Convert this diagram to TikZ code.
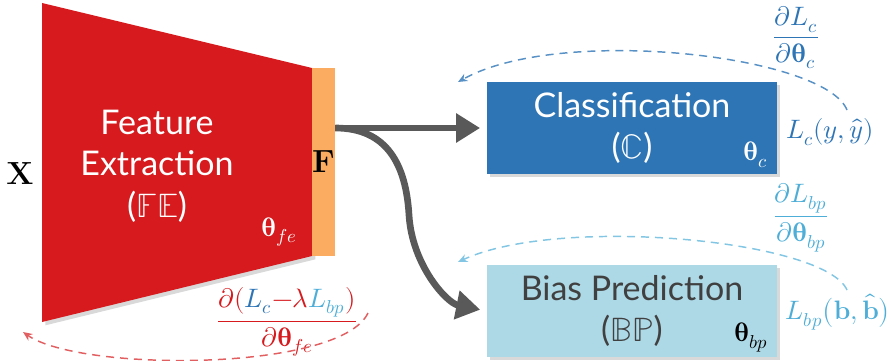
\documentclass[tikz,border=0pt]{standalone}
\usepackage{amsmath}
\usepackage{fontspec}
\usepackage{unicode-math}
\setmathfont{Latin Modern Math}
\newfontfamily\boxfont{Lato}
\usetikzlibrary{arrows.meta,shadows}
\definecolor{RedFE}{RGB}{214,26,30}
\definecolor{OrangeF}{RGB}{251,172,96}
\definecolor{BlueC}{RGB}{46,117,182}
\definecolor{BlueBP}{RGB}{173,216,230}
\definecolor{TextBP}{RGB}{78,174,216}
\definecolor{GrayArrow}{RGB}{89,89,89}
\definecolor{DarkText}{RGB}{64,64,64}
\tikzset{
  flow/.style={draw=GrayArrow, line width=5pt, -{Triangle[length=18pt,width=21pt]}, shorten >=5pt},
  backprop/.style={dash pattern=on 6pt off 4.5pt, line width=1.1pt, -{Stealth[length=7pt,width=6pt]}},
  softshadow/.style={drop shadow={shadow xshift=2.5pt, shadow yshift=-2.5pt, opacity=0.3}},
  blockbox/.style={minimum width=217.5pt, minimum height=69pt, inner sep=0pt, align=center, softshadow},
  boxtext/.style={font=\boxfont\fontsize{25.5}{31}\selectfont},
  mathlbl/.style={font=\fontsize{20}{24}\selectfont, inner sep=0.75pt},
  inlbl/.style={font=\bfseries\fontsize{24}{28}\selectfont, inner sep=0.75pt},
}

\begin{document}
\begin{tikzpicture}[x=0.75pt,y=0.75pt,yscale=-1,xscale=1]
\useasboundingbox (0,0) rectangle (891,360);

%Shape: Trapezoid [feature extraction]
\path [fill=RedFE, softshadow] (42,3) -- (312,68) -- (312,256) -- (42,322) -- cycle;
%Shape: Rectangle [feature bar]
\draw (323.5,162) node (feat) [fill=OrangeF, minimum width=17.25pt, minimum height=141pt, inner sep=0pt] {};
%Shape: Rectangle [classification]
\draw (632,128) node (cls) [blockbox, fill=BlueC, boxtext, text=white] {Classification\\($\mathbb{C}$)};
%Shape: Rectangle [bias prediction]
\draw (632,311) node (bp) [blockbox, fill=BlueBP, boxtext, text=DarkText] {Bias Prediction\\($\mathbb{B}\mathbb{P}$)};

%Straight Lines [F to C]
\draw [flow] (feat.east |- cls.west) -- (cls.west);
%Curve Lines [F to BP]
\coordinate (bend) at (409,215);
\draw [flow] (feat.east |- cls.west) .. controls +(52,0) and +(-3,-50) .. (bend) .. controls +(3,50) and +(-40,-8) .. (bp.west);

% Text Node
\draw (20,174) node (inX) [inlbl] {X};
% Text Node
\draw (feat.center) node (fLbl) [inlbl] {F};
% Text Node
\draw (157,166) node (feTxt) [boxtext, text=white, align=center] {Feature\\Extraction\\($\mathbb{F}\mathbb{E}$)};
% Text Node
\draw (298,248) node (thFE) [anchor=south east, mathlbl, text=white] {$\symbfup{\theta}_{fe}$};
% Text Node
\draw ([xshift=-6pt,yshift=-4pt]cls.south east) node (thC) [anchor=south east, mathlbl, text=white] {$\symbfup{\theta}_{c}$};
% Text Node
\draw ([xshift=-6pt,yshift=-3pt]bp.south east) node (thBP) [anchor=south east, mathlbl, text=black] {$\symbfup{\theta}_{bp}$};

% Text Node
\draw (796,38) node (gC) [mathlbl, text=BlueC] {$\dfrac{\partial L_c}{\partial \symbfup{\theta}_c}$};
% Text Node
\draw (830,132) node (lC) [mathlbl, text=BlueC] {$L_c(y,\hat{y})$};
% Text Node
\draw (801,218) node (gBP) [mathlbl, text=TextBP] {$\dfrac{\partial L_{bp}}{\partial \symbfup{\theta}_{bp}}$};
% Text Node
\draw (838,312) node (lBP) [mathlbl, text=TextBP] {$L_{bp}\bigl(\mathbf{b},\hat{\mathbf{b}}\bigr)$};
% Text Node
\draw (287,322) node (gFE) [mathlbl, text=RedFE] {$\dfrac{\partial(\textcolor{BlueC}{L_c}{-}\lambda\textcolor{TextBP}{L_{bp}})}{\partial \symbfup{\theta}_{fe}}$};

%Curve Lines [gradient arcs]
\coordinate (cFrom) at (847,110);
\coordinate (cTo) at (458,82);
\draw [backprop, BlueC!80] (cFrom) .. controls (825,55) and (560,25) .. (cTo);
\coordinate (bFrom) at (847,290);
\coordinate (bTo) at (458,262);
\draw [backprop, TextBP!70] (bFrom) .. controls (825,240) and (560,215) .. (bTo);
\coordinate (fFrom) at (368,313);
\coordinate (fTo) at (23,332);
\draw [backprop, RedFE!70] (fFrom) .. controls (340,372) and (80,372) .. (fTo);

\end{tikzpicture}
\end{document}
